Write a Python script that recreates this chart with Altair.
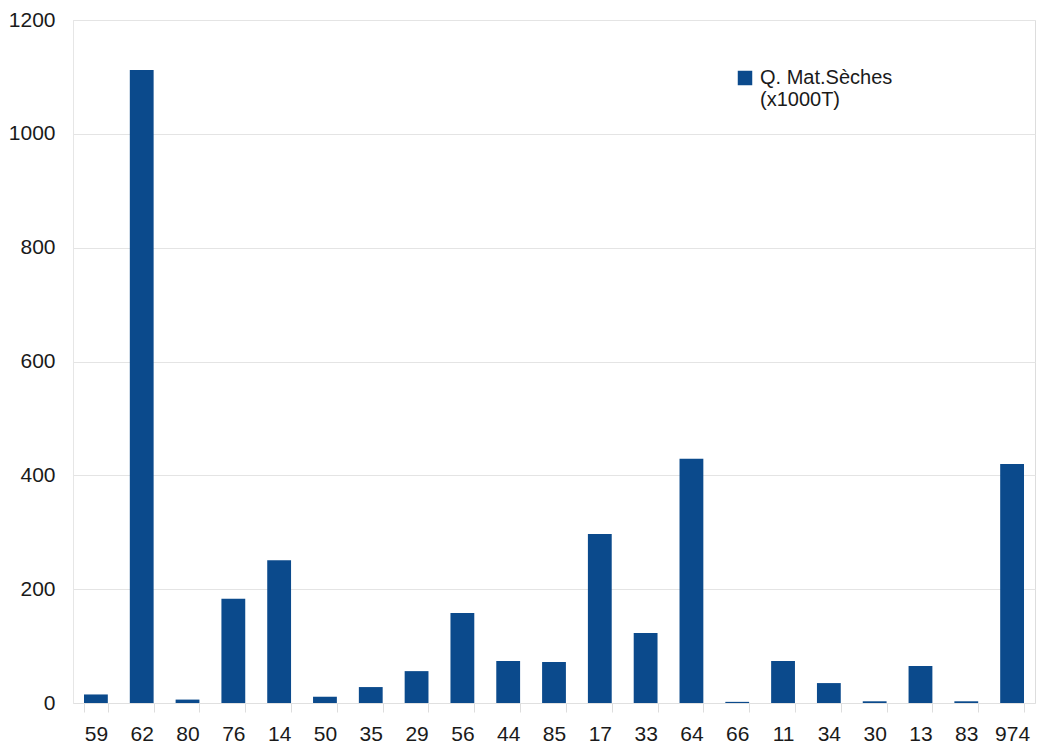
import altair as alt
import pandas as pd

categories = ["59", "62", "80", "76", "14", "50", "35", "29", "56", "44", "85",
              "17", "33", "64", "66", "11", "34", "30", "13", "83", "974"]
values = [15, 1112, 6, 183, 251, 11, 28, 56, 158, 74, 72,
          297, 123, 429, 2, 74, 35, 3, 65, 3, 420]
y_ticks = [0, 200, 400, 600, 800, 1000, 1200]
series_name = "Q. Mat.Sèches|(x1000T)"

df = pd.DataFrame({"dept": categories, "val": values, "serie": series_name})

FONT = "Liberation Sans"
bars = alt.Chart(df).mark_bar().encode(
    x=alt.X("dept:N", sort=categories, title=None,
            scale=alt.Scale(paddingInner=0.48, paddingOuter=0.24),
            axis=alt.Axis(labelAngle=0, tickBand="extent", labelFontSize=21,
                          labelColor="#1a1a1a", labelFont=FONT,
                          tickColor="#dddddd", tickSize=9, labelPadding=11,
                          domainColor="#e0e0e0", grid=False)),
    y=alt.Y("val:Q", title=None,
            scale=alt.Scale(domain=[0, 1200], nice=False),
            axis=alt.Axis(values=y_ticks, format="d",
                          labelFontSize=21, labelColor="#1a1a1a",
                          labelFont=FONT, labelPadding=18,
                          tickSize=0, gridColor="#e4e4e4",
                          domainColor="#e6e6e6")),
    fill=alt.Fill("serie:N", scale=alt.Scale(range=["#0b4a8c"]),
                  legend=alt.Legend(title=None, orient="none", legendX=662,
                                    legendY=48, symbolType="square",
                                    symbolSize=210, symbolStrokeWidth=0,
                                    labelFontSize=20,
                                    labelFont=FONT,
                                    labelColor="#1a1a1a",
                                    labelExpr="split(datum.label, '|')",
                                    labelLimit=300, labelOffset=5)),
)

chart = bars.properties(
    width=962, height=683,
    autosize=alt.AutoSizeParams(type="none"),
    padding={"left": 73, "top": 20, "right": 4, "bottom": 44},
).configure_view(
    stroke=None, fill="#ffffff"
).configure(background="#ffffff")

chart.save("out.html", embed_options={"renderer": "svg", "actions": False})
